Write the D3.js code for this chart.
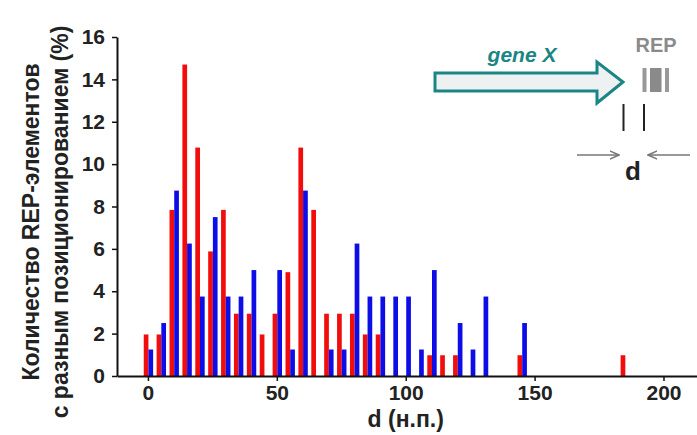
<!DOCTYPE html>
<html>
<head>
<meta charset="utf-8">
<script src="https://cdn.jsdelivr.net/npm/d3@7"></script>
<style>
  html, body { margin: 0; padding: 0; background: #fff; }
  svg { display: block; font-family: "Liberation Sans", Arial, sans-serif; }
</style>
</head>
<body>
<div id="chart"></div>
<script>
// Distance from the gene end to the REP element, 5-nt bins.
const bins = [0, 5, 10, 15, 20, 25, 30, 35, 40, 45, 50, 55, 60, 65, 70, 75, 80, 85, 90, 95,
  100, 105, 110, 115, 120, 125, 130, 135, 140, 145, 150, 155, 160, 165, 170, 175, 180, 185];
const redValues = [1.96, 1.96, 7.84, 14.7, 10.78, 5.88, 7.84, 2.94, 2.94, 1.96, 2.94, 4.9, 10.78, 7.84, 2.94, 2.94, 2.94, 1.96, 1.96, 0,
  0, 0, 0.98, 0.98, 0.98, 0, 0, 0, 0, 0.98, 0, 0, 0, 0, 0, 0, 0, 0.98];
const blueValues = [1.25, 2.5, 8.75, 6.25, 3.75, 7.5, 3.75, 3.75, 5, 0, 5, 1.25, 8.75, 0, 1.25, 1.25, 6.25, 3.75, 3.75, 3.75,
  3.75, 1.25, 5, 0, 2.5, 1.25, 3.75, 0, 0, 2.5, 0, 0, 0, 0, 0, 0, 0, 0];
const xTicks = [0, 50, 100, 150, 200];
const yTicks = [0, 2, 4, 6, 8, 10, 12, 14, 16];
const yLabelLines = ['Количество REP-элементов', 'с разным позиционированием (%)'];
const xLabel = 'd (н.п.)';

const width = 697, height = 435;
const svg = d3.select('#chart').append('svg').attr('width', width).attr('height', height);

const x = d3.scaleLinear().domain([-12, 213]).range([117, 697]);
const y = d3.scaleLinear().domain([0, 16]).range([376, 37]);
const barW = 4.7;

const rows = bins.map((b, i) => ({ bin: b, red: redValues[i], blue: blueValues[i] }));

// bars: red sits just left of the bin position, blue just right
svg.append('g').selectAll('rect')
  .data(rows.filter(d => d.red > 0))
  .join('rect')
  .attr('x', d => x(d.bin) - barW + 0.5)
  .attr('y', d => y(d.red))
  .attr('width', barW)
  .attr('height', d => y(0) - y(d.red))
  .attr('fill', '#f20d0d');

svg.append('g').selectAll('rect')
  .data(rows.filter(d => d.blue > 0))
  .join('rect')
  .attr('x', d => x(d.bin) + 0.5)
  .attr('y', d => y(d.blue))
  .attr('width', barW)
  .attr('height', d => y(0) - y(d.blue))
  .attr('fill', '#0d0de8');

// axes
const xAxis = svg.append('g')
  .attr('transform', `translate(0,${y(0)})`)
  .call(d3.axisBottom(x).tickValues(xTicks).tickSize(5).tickSizeOuter(0).tickPadding(4));
const yAxis = svg.append('g')
  .attr('transform', `translate(${x.range()[0]},0)`)
  .call(d3.axisLeft(y).tickValues(yTicks).tickSize(5).tickSizeOuter(0).tickPadding(7));

[xAxis, yAxis].forEach(a => {
  a.select('.domain').attr('stroke', '#111').attr('stroke-width', 2);
  a.selectAll('.tick line').attr('stroke', '#111').attr('stroke-width', 1.5);
  a.selectAll('.tick text')
    .attr('fill', '#222')
    .style('font-family', '"Liberation Sans", Arial, sans-serif')
    .style('font-size', '21px')
    .style('font-weight', 'bold');
});

svg.append('text')
  .attr('x', x(100)).attr('y', 427)
  .attr('text-anchor', 'middle')
  .attr('fill', '#222')
  .style('font-size', '23px').style('font-weight', 'bold')
  .text(xLabel);

// rotated two-line y label
const yl = svg.append('text')
  .attr('transform', 'translate(0,222) rotate(-90)')
  .attr('text-anchor', 'middle')
  .attr('fill', '#222')
  .style('font-size', '23px').style('font-weight', 'bold');
yLabelLines.forEach((t, i) => {
  yl.append('tspan').attr('x', 0).attr('y', 39 + i * 29).text(t);
});

// inset sketch: gene arrow, REP element and distance d
const inset = svg.append('g');
const arrowPts = [[435, 73], [597, 73], [597, 62], [623, 82], [597, 103], [597, 91], [435, 91]];
inset.append('path')
  .attr('d', d3.line()(arrowPts) + 'Z')
  .attr('fill', '#eef1f1')
  .attr('stroke', '#1b8585')
  .attr('stroke-width', 3)
  .attr('stroke-linejoin', 'miter');
inset.append('text')
  .attr('x', 522).attr('y', 62)
  .attr('text-anchor', 'middle')
  .attr('fill', '#1b8585')
  .style('font-size', '21px').style('font-weight', 'bold').style('font-style', 'italic')
  .text('gene X');
inset.append('text')
  .attr('x', 656).attr('y', 52)
  .attr('text-anchor', 'middle')
  .attr('fill', '#8a8a8a')
  .style('font-size', '20px').style('font-weight', 'bold')
  .text('REP');
inset.append('rect').attr('x', 642.5).attr('y', 68).attr('width', 4).attr('height', 24).attr('fill', '#999');
inset.append('rect').attr('x', 650).attr('y', 68).attr('width', 11.5).attr('height', 24).attr('fill', '#8a8a8a');
inset.append('rect').attr('x', 665).attr('y', 68).attr('width', 4).attr('height', 24).attr('fill', '#999');
inset.append('line').attr('x1', 623.5).attr('x2', 623.5).attr('y1', 104).attr('y2', 131).attr('stroke', '#222').attr('stroke-width', 2);
inset.append('line').attr('x1', 644).attr('x2', 644).attr('y1', 104).attr('y2', 131).attr('stroke', '#222').attr('stroke-width', 2);

const defs = svg.append('defs');
defs.append('marker')
  .attr('id', 'head').attr('viewBox', '0 0 10 10')
  .attr('refX', 9).attr('refY', 5)
  .attr('markerWidth', 7).attr('markerHeight', 7)
  .attr('orient', 'auto')
  .append('path').attr('d', 'M0,1 L9,5 L0,9').attr('fill', 'none').attr('stroke', '#777').attr('stroke-width', 1.5);
inset.append('line').attr('x1', 577).attr('x2', 619).attr('y1', 155).attr('y2', 155)
  .attr('stroke', '#777').attr('stroke-width', 1.5).attr('marker-end', 'url(#head)');
inset.append('line').attr('x1', 690).attr('x2', 648).attr('y1', 155).attr('y2', 155)
  .attr('stroke', '#777').attr('stroke-width', 1.5).attr('marker-end', 'url(#head)');
inset.append('text')
  .attr('x', 633).attr('y', 180)
  .attr('text-anchor', 'middle')
  .attr('fill', '#222')
  .style('font-size', '26px').style('font-weight', 'bold')
  .text('d');
</script>
</body>
</html>
